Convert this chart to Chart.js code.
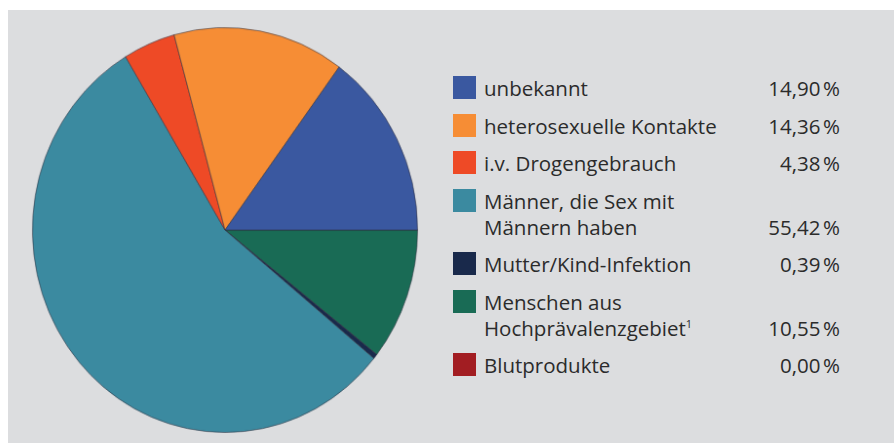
<!DOCTYPE html>
<html>
<head>
<meta charset="utf-8">
<script src="https://cdn.jsdelivr.net/npm/chart.js@4"></script>
<style>
  html, body { margin: 0; padding: 0; background: #fff; }
  #frame { position: absolute; left: 8px; top: 10px; width: 886px; height: 433px; background: #dcdddf; }
  #pieBox { position: absolute; left: 27px; top: 32px; width: 396px; height: 396px; transform: scale(0.975, 1.025); }
  #legend { position: absolute; left: 453px; top: 75px; width: 387px; font-family: "Open Sans", Lato, sans-serif; font-size: 20.5px; color: #2b2b2b; }
  .row { display: flex; align-items: flex-start; margin-bottom: 11.5px; line-height: 26px; }
  .sw { width: 23px; height: 23px; flex: none; margin-top: 1px; margin-right: 8px; }
  .lbl { flex: 1; }
  .val { align-self: flex-end; text-align: right; white-space: nowrap; }
  sup { font-size: 11px; line-height: 0; }
</style>
</head>
<body>
<div id="frame"></div>
<div id="pieBox"><canvas id="myChart"></canvas></div>
<div id="legend"></div>
<script>
// Daten in Legendenreihenfolge
const labels = ['unbekannt', 'heterosexuelle Kontakte', 'i.v. Drogengebrauch', 'Männer, die Sex mit\nMännern haben', 'Mutter/Kind-Infektion', 'Menschen aus\nHochprävalenzgebiet¹', 'Blutprodukte'];
const values = [14.90, 14.36, 4.38, 55.42, 0.39, 10.55, 0.00];
const colors = ['#3a58a0', '#f68d35', '#ee4a26', '#3b8aa0', '#19294b', '#196b55', '#a21d22'];

// Legende als HTML
const legend = document.getElementById('legend');
labels.forEach((l, i) => {
  const row = document.createElement('div');
  row.className = 'row';
  const sw = document.createElement('div');
  sw.className = 'sw';
  sw.style.background = colors[i];
  const lbl = document.createElement('div');
  lbl.className = 'lbl';
  lbl.innerHTML = l.replace('¹', '<sup>1</sup>').split('\n').join('<br>');
  const val = document.createElement('div');
  val.className = 'val';
  val.textContent = values[i].toFixed(2).replace('.', ',') + '\u202F%';
  row.appendChild(sw);
  row.appendChild(lbl);
  row.appendChild(val);
  legend.appendChild(row);
});

// Pie läuft gegen den Uhrzeigersinn ab 3 Uhr -> umgekehrte Reihenfolge im Uhrzeigersinn
const pieData = values.slice().reverse();
const pieColors = colors.slice().reverse();
const pieLabels = labels.slice().reverse();

const ctx = document.getElementById('myChart').getContext('2d');
const myChart = new Chart(ctx, {
  type: 'pie',
  data: {
    labels: pieLabels,
    datasets: [{
      data: pieData,
      backgroundColor: pieColors,
      borderColor: 'rgba(45,45,60,0.55)',
      borderWidth: 1
    }]
  },
  options: {
    responsive: true,
    maintainAspectRatio: false,
    animation: false,
    rotation: 90,
    events: [],
    layout: { padding: 0 },
    plugins: {
      legend: { display: false },
      tooltip: { enabled: false }
    }
  }
});
</script>
</body>
</html>
